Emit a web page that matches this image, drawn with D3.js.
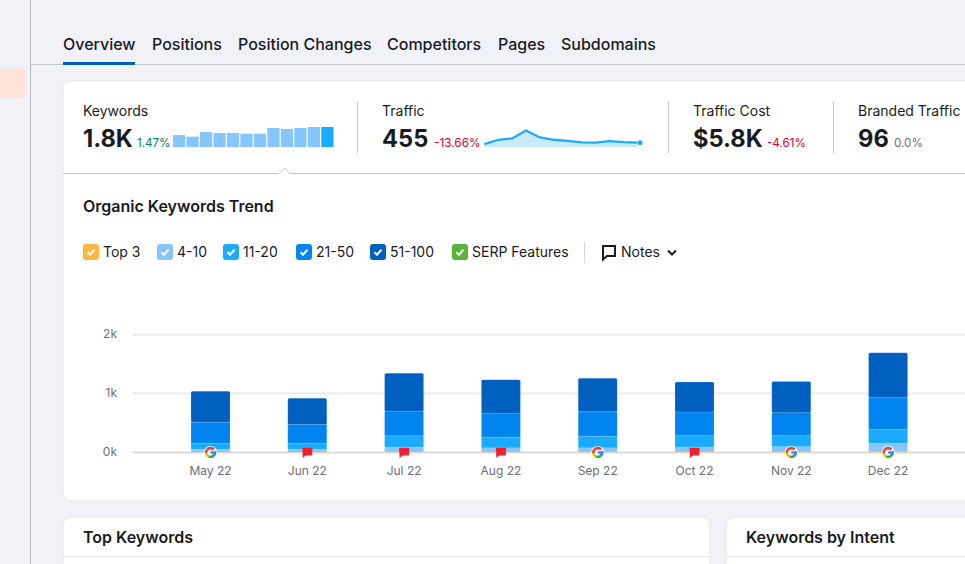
<!DOCTYPE html>
<html>
<head>
<meta charset="utf-8">
<script src="https://cdn.jsdelivr.net/npm/d3@7"></script>
<style>
  html, body { margin: 0; padding: 0; background: #f1f2f7; overflow: hidden; }
  svg { display: block; font-family: Inter, Roboto, sans-serif; }
</style>
</head>
<body>
<svg id="page" width="965" height="564"></svg>
<script>
// chart data
const months = ["May 22", "Jun 22", "Jul 22", "Aug 22", "Sep 22", "Oct 22", "Nov 22", "Dec 22"];
const top3 = [6, 6, 6, 6, 6, 8, 8, 12];
const pos4to10 = [50, 50, 85, 73, 73, 85, 90, 141];
const pos11to20 = [97, 97, 192, 181, 198, 192, 186, 237];
const pos21to50 = [360, 322, 418, 407, 412, 402, 390, 537];
const pos51to100 = [525, 446, 644, 565, 571, 508, 531, 763];
const yTicks = [0, 1000, 2000];
const noteIcons = ["google", "flag", "flag", "flag", "google", "flag", "google", "google"];

const tabs = ["Overview", "Positions", "Position Changes", "Competitors", "Pages", "Subdomains"];
const keywordSpark = [36, 31, 45, 42, 42, 40, 40, 57, 54, 57, 60, 60];
const trafficSpark = [438, 493, 510, 612, 523, 493, 480, 459, 455, 476, 463, 455];

const legendNames = ["Top 3", "4-10", "11-20", "21-50", "51-100", "SERP Features"];
const legendColors = ["#ffb740", "#85c6ff", "#1aabff", "#0084f0", "#0060bf", "#59b53a"];
const legendX = [83, 157, 223, 296, 370, 452];

const svg = d3.select("#page");
const ink = "#191b23";
const grey = "#6c6e79";

function addText(x, y, str, size, weight, fill, anchor) {
  return svg.append("text")
    .attr("x", x).attr("y", y)
    .attr("font-size", size)
    .attr("font-weight", weight || 400)
    .attr("fill", fill || ink)
    .attr("text-anchor", anchor || "start")
    .text(str);
}

// page frame
svg.append("rect").attr("x", 0).attr("y", 69).attr("width", 26).attr("height", 29).attr("rx", 5).attr("fill", "#ffe3da");
svg.append("rect").attr("x", -6).attr("y", 69).attr("width", 12).attr("height", 29).attr("fill", "#ffe3da");
svg.append("line").attr("x1", 30.5).attr("x2", 30.5).attr("y1", 0).attr("y2", 564).attr("stroke", "#b8bac2");
svg.append("line").attr("x1", 31).attr("x2", 965).attr("y1", 64.5).attr("y2", 64.5).attr("stroke", "#c4c7cf");

// tabs
const tabX = [63, 152, 238, 387, 498, 561];
tabs.forEach((t, i) => addText(tabX[i], 50, t, 16, 500));
svg.append("rect").attr("x", 63).attr("y", 62).attr("width", 72).attr("height", 3).attr("fill", "#0060bf");

// cards
svg.append("rect").attr("x", 63).attr("y", 81).attr("width", 950).attr("height", 420).attr("rx", 8).attr("fill", "#fff").attr("stroke", "#e6e7ed");
svg.append("rect").attr("x", 63).attr("y", 517).attr("width", 647).attr("height", 80).attr("rx", 8).attr("fill", "#fff").attr("stroke", "#e6e7ed");
svg.append("rect").attr("x", 726).attr("y", 517).attr("width", 300).attr("height", 80).attr("rx", 8).attr("fill", "#fff").attr("stroke", "#e6e7ed");
svg.append("line").attr("x1", 63).attr("x2", 710).attr("y1", 556.5).attr("y2", 556.5).attr("stroke", "#e0e1e9");
svg.append("line").attr("x1", 726).attr("x2", 965).attr("y1", 556.5).attr("y2", 556.5).attr("stroke", "#e0e1e9");
addText(83, 543, "Top Keywords", 16, 600);
addText(746, 543, "Keywords by Intent", 16, 600);

// summary row
addText(83, 116, "Keywords", 14);
addText(83, 147, "1.8K", 23.7, 700);
addText(137, 147, "1.47%", 11.6, 400, "#007c65");
addText(382, 116, "Traffic", 14);
addText(382, 147, "455", 23.7, 700);
addText(434, 147, "-13.66%", 11.8, 400, "#d1002f");
addText(693, 116, "Traffic Cost", 14);
addText(693, 147, "$5.8K", 23.7, 700);
addText(767, 147, "-4.61%", 11.6, 400, "#d1002f");
addText(858, 116, "Branded Traffic", 14);
addText(858, 147, "96", 23.7, 700);
addText(894, 147, "0.0%", 11.6, 400, grey);
[357.5, 668.5, 833.5].forEach(x => {
  svg.append("line").attr("x1", x).attr("x2", x).attr("y1", 101).attr("y2", 153).attr("stroke", "#c4c7cf");
});

// divider with little notch under Keywords
svg.append("path")
  .attr("d", "M63,173.5H279L284.5,168L290,173.5H965")
  .attr("fill", "#fff").attr("stroke", "#c4c7cf");

// keywords sparkline
const sparkX = d3.scaleBand().domain(d3.range(keywordSpark.length)).range([173, 333.5]).paddingInner(0.09).paddingOuter(0);
const sparkY = d3.scaleLinear().domain([0, 60]).range([147, 127]);
svg.append("g").selectAll("rect").data(keywordSpark).join("rect")
  .attr("x", (d, i) => sparkX(i))
  .attr("width", sparkX.bandwidth())
  .attr("y", d => sparkY(d))
  .attr("height", d => sparkY(0) - sparkY(d))
  .attr("fill", (d, i) => i === keywordSpark.length - 1 ? "#1aabff" : "#85c6ff");

// traffic sparkline
const trafX = d3.scaleLinear().domain([0, trafficSpark.length - 1]).range([484.3, 637.3]);
const trafY = d3.scaleLinear().domain([400, 612]).range([147, 130.5]);
svg.append("path").datum(trafficSpark)
  .attr("fill", "#c9e9ff")
  .attr("d", d3.area().x((d, i) => trafX(i)).y0(147).y1(d => trafY(d)));
svg.append("path").datum(trafficSpark)
  .attr("fill", "none").attr("stroke", "#1aabff").attr("stroke-width", 2.3)
  .attr("d", d3.line().x((d, i) => trafX(i)).y(d => trafY(d)));
svg.append("circle").attr("cx", trafX(trafficSpark.length - 1) + 2.7).attr("cy", trafY(455)).attr("r", 2.5).attr("fill", "#1aabff");

addText(83, 212, "Organic Keywords Trend", 16, 600);

// legend
legendNames.forEach((name, i) => {
  const g = svg.append("g").attr("transform", `translate(${legendX[i]},244)`);
  g.append("rect").attr("width", 16).attr("height", 16).attr("rx", 3).attr("fill", legendColors[i]);
  g.append("path").attr("d", "M4.5,8.2L7,10.7L11.5,5.8").attr("fill", "none").attr("stroke", "#fff").attr("stroke-width", 2);
  g.append("text").attr("x", 20).attr("y", 13).attr("font-size", 14).attr("fill", ink).text(name);
});
svg.append("line").attr("x1", 584.5).attr("x2", 584.5).attr("y1", 242).attr("y2", 263).attr("stroke", "#d1d4db");
svg.append("path").attr("d", "M603,246H615V256H607L603,259.5Z").attr("fill", "none").attr("stroke", ink).attr("stroke-width", 2);
addText(621, 257, "Notes", 14);
svg.append("path").attr("d", "M668,250.5L672,254.5L676,250.5").attr("fill", "none").attr("stroke", ink).attr("stroke-width", 2);

// stacked bars
const x = d3.scaleBand().domain(months).range([162.1, 936.5]).paddingInner(0.597).paddingOuter(0.2985);
const y = d3.scaleLinear().domain([0, 2000]).range([452.5, 334.5]);

const yAxis = d3.axisLeft(y).tickValues(yTicks).tickFormat(d => (d / 1000) + "k").tickSize(0).tickPadding(0);
const yg = svg.append("g").attr("transform", "translate(117,-0.7)").call(yAxis);
yg.select(".domain").remove();
yg.selectAll("text").attr("font-size", 12).attr("font-family", "Inter").attr("fill", grey);

svg.append("g").selectAll("line").data(yTicks).join("line")
  .attr("x1", 133).attr("x2", 965)
  .attr("y1", d => y(d)).attr("y2", d => y(d))
  .attr("stroke", d => d === 0 ? "#d9dae2" : "#e8e9ef").attr("stroke-width", 2);

const rows = months.map((m, i) => ({
  month: m, top3: top3[i], p4: pos4to10[i], p11: pos11to20[i], p21: pos21to50[i], p51: pos51to100[i]
}));
const keys = ["top3", "p4", "p11", "p21", "p51"];
const stacked = d3.stack().keys(keys)(rows);

svg.append("g").selectAll("g").data(stacked).join("g")
  .attr("fill", (d, i) => legendColors[i])
  .selectAll("rect").data(d => d).join("rect")
  .attr("x", d => x(d.data.month))
  .attr("width", x.bandwidth())
  .attr("y", d => y(d[1]))
  .attr("height", d => y(d[0]) - y(d[1]))
  .attr("rx", d => d[1] === d.data.top3 + d.data.p4 + d.data.p11 + d.data.p21 + d.data.p51 ? 1.5 : 0)
  .attr("stroke", "#fff").attr("stroke-opacity", 0.22).attr("stroke-width", 0.6);

const xAxis = d3.axisBottom(x).tickSize(0).tickPadding(0);
const xg = svg.append("g").attr("transform", "translate(0,467.5)").call(xAxis);
xg.select(".domain").remove();
xg.selectAll("text").attr("font-size", 12).attr("font-family", "Inter").attr("fill", grey).attr("dy", "0.6em");

// note markers on the baseline
function drawGoogle(g) {
  const arc = d3.arc().innerRadius(3.1).outerRadius(5.7);
  g.append("circle").attr("r", 6.6).attr("fill", "#fff").attr("fill-opacity", 0.85);
  const parts = [["#ea4335", -0.85, 0.85], ["#4285f4", 1.3, 2.2], ["#34a853", 2.2, 3.6], ["#fbbc05", 3.6, 4.6], ["#ea4335", 4.6, 5.45]];
  parts.forEach(p => g.append("path").attr("fill", p[0]).attr("d", arc({ startAngle: p[1], endAngle: p[2] })));
  g.append("rect").attr("x", 0).attr("y", -1.2).attr("width", 5.7).attr("height", 2.4).attr("fill", "#4285f4");
  g.append("path").attr("d", "M5.7,1.2A5.7,5.7 0 0 1 3.5,4.5L2,2.6A3.1,3.1 0 0 0 3,1.2Z").attr("fill", "#4285f4");
}
function drawFlag(g) {
  g.append("path").attr("d", "M-5,-4.8H5.2L4.8,3H-1.5L-4.5,5.6Z").attr("fill", "#f0202c");
}
months.forEach((m, i) => {
  const g = svg.append("g").attr("transform", `translate(${x(m) + x.bandwidth() / 2},452.5)`);
  if (noteIcons[i] === "google") drawGoogle(g); else drawFlag(g);
});
</script>
</body>
</html>
